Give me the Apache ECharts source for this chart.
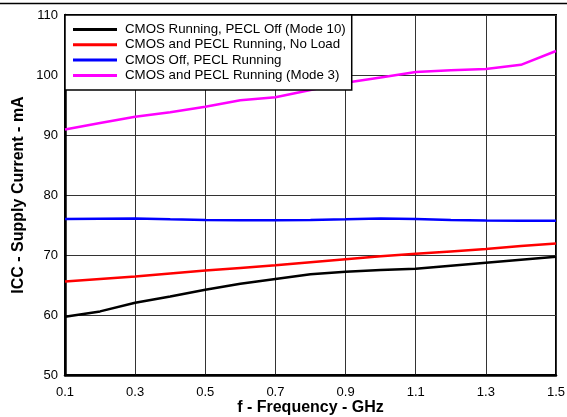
<!DOCTYPE html>
<html>
<head>
<meta charset="utf-8">
<script src="https://cdn.jsdelivr.net/npm/echarts@6/dist/echarts.min.js"></script>
<style>
html,body{margin:0;padding:0;background:#fff;}
#chart{width:567px;height:417px;}
</style>
</head>
<body>
<div id="chart"></div>
<script>
const freqs = ['0.1','0.2','0.3','0.4','0.5','0.6','0.7','0.8','0.9','1.0','1.1','1.2','1.3','1.4','1.5'];
const cmosOnlyMode10 = [59.7,60.6,62.05,63.1,64.2,65.2,66.0,66.8,67.2,67.5,67.7,68.2,68.7,69.2,69.7];
const bothNoLoad = [65.6,66.0,66.4,66.9,67.4,67.85,68.3,68.8,69.3,69.8,70.2,70.6,71.0,71.5,71.9];
const peclOnly = [76.0,76.05,76.1,75.95,75.85,75.8,75.8,75.85,75.95,76.1,76.0,75.85,75.75,75.7,75.7];
const bothMode3 = [90.9,92.0,93.05,93.8,94.7,95.8,96.3,97.5,98.7,99.6,100.5,100.8,101.0,101.7,104.0];
const seriesNames = ['CMOS Running, PECL Off (Mode 10)','CMOS and PECL Running, No Load','CMOS Off, PECL Running','CMOS and PECL Running (Mode 3)'];
const seriesColors = ['#000000','#ff0000','#0000ff','#ff00ff'];
const seriesData = [cmosOnlyMode10, bothNoLoad, peclOnly, bothMode3];

const chart = echarts.init(document.getElementById('chart'), null, {renderer:'canvas'});
const font = 'Liberation Sans, Arial, Helvetica, sans-serif';
chart.setOption({
  animation: false,
  backgroundColor: '#ffffff',
  textStyle: {fontFamily: font},
  grid: {left: 65, right: 11, top: 15, bottom: 42, containLabel: false, outerBoundsMode: 'none',
         show: true, borderColor: '#000', borderWidth: 2, backgroundColor: 'transparent'},
  legend: {
    orient: 'vertical', left: 65, top: 15,
    backgroundColor: '#fff', borderColor: '#000', borderWidth: 1.5,
    padding: [7, 6, 7, 8], itemGap: 0.3,
    itemWidth: 44, itemHeight: 3, icon: 'rect',
    textStyle: {fontSize: 13.3, color: '#000', lineHeight: 15, fontFamily: font, padding: [0,0,0,3]},
    data: seriesNames
  },
  xAxis: {
    type: 'category', data: freqs, boundaryGap: false,
    name: 'f - Frequency - GHz', nameLocation: 'middle', nameGap: 25, nameMoveOverlap: false,
    nameTextStyle: {fontSize: 16, fontWeight: 'bold', color: '#000', fontFamily: font},
    axisLine: {show: true, lineStyle: {color: '#000', width: 2.5}},
    axisTick: {show: false},
    axisLabel: {interval: 1, fontSize: 13, color: '#000', margin: 11, fontFamily: font},
    splitLine: {show: true, interval: 1, lineStyle: {color: '#333', width: 1}}
  },
  yAxis: {
    type: 'value', min: 50, max: 110, interval: 10,
    name: 'ICC - Supply Current - mA', nameLocation: 'middle', nameGap: 38, nameMoveOverlap: false,
    nameTextStyle: {fontSize: 16, fontWeight: 'bold', color: '#000', fontFamily: font},
    axisLine: {show: true, lineStyle: {color: '#000', width: 2.5}},
    axisTick: {show: false},
    axisLabel: {fontSize: 13, color: '#000', margin: 7, fontFamily: font},
    splitLine: {show: true, lineStyle: {color: '#333', width: 1}}
  },
  graphic: [{
    type: 'line', shape: {x1: 0, y1: 3.5, x2: 567, y2: 3.5},
    style: {stroke: '#000', lineWidth: 1.5}, silent: true
  }],
  series: seriesNames.map((n, i) => ({
    name: n, type: 'line', data: seriesData[i],
    showSymbol: false, symbol: 'none',
    lineStyle: {color: seriesColors[i], width: 2.5},
    itemStyle: {color: seriesColors[i]},
    z: 3
  }))
});
</script>
</body>
</html>
